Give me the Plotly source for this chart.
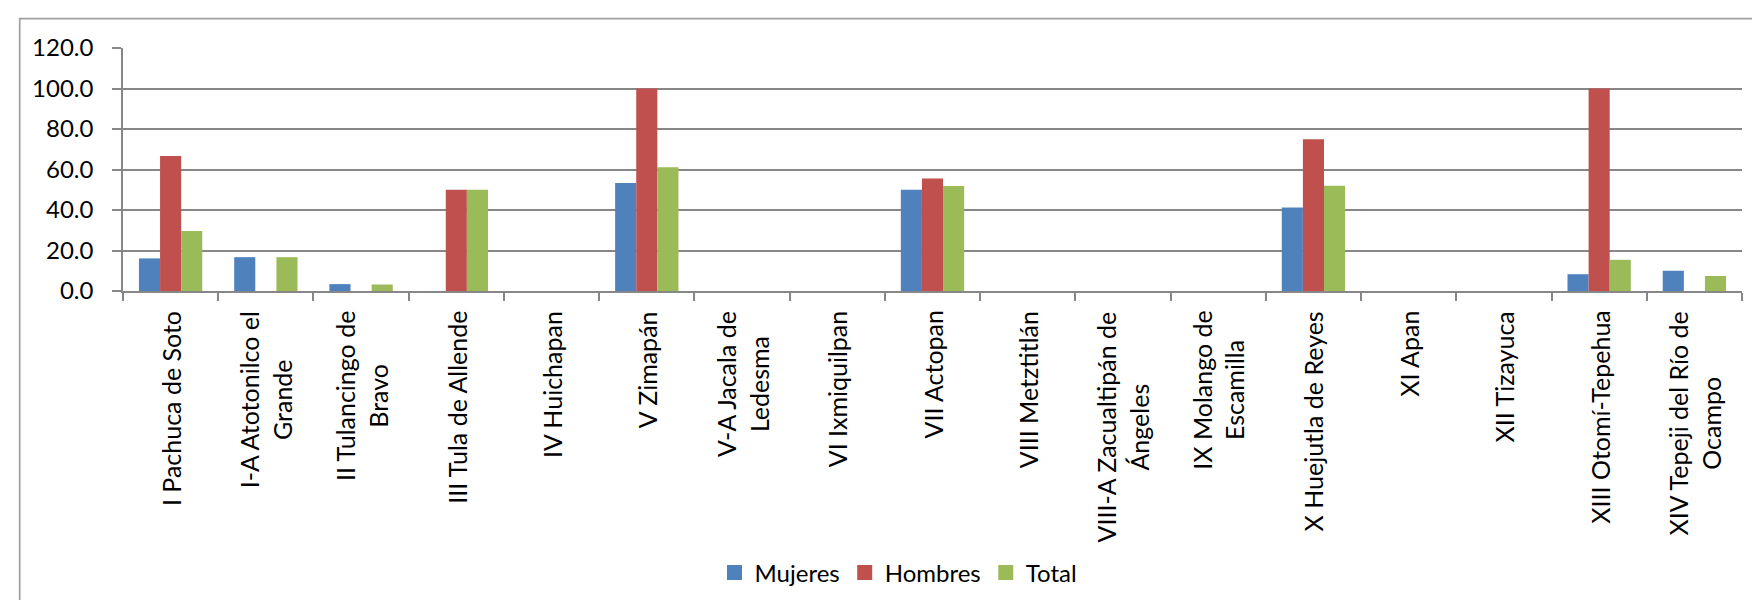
import plotly.graph_objects as go

categories = [
    "I Pachuca de Soto", "I-A Atotonilco el Grande", "II Tulancingo de Bravo",
    "III Tula de Allende", "IV Huichapan", "V Zimapán", "V-A Jacala de Ledesma",
    "VI Ixmiquilpan", "VII Actopan", "VIII Metztitlán",
    "VIII-A Zacualtipán de Ángeles", "IX Molango de Escamilla",
    "X Huejutla de Reyes", "XI Apan", "XII Tizayuca", "XIII Otomí-Tepehua",
    "XIV Tepeji del Río de Ocampo",
]
tick_labels = [
    "I Pachuca de Soto", "I-A Atotonilco el<br>Grande", "II Tulancingo de<br>Bravo",
    "III Tula de Allende", "IV Huichapan", "V Zimapán", "V-A Jacala de<br>Ledesma",
    "VI Ixmiquilpan", "VII Actopan", "VIII Metztitlán",
    "VIII-A Zacualtipán de<br>Ángeles", "IX Molango de<br>Escamilla",
    "X Huejutla de Reyes", "XI Apan", "XII Tizayuca", "XIII Otomí-Tepehua",
    "XIV Tepeji del Río de<br>Ocampo",
]
mujeres = [16.1, 16.7, 3.4, 0, 0, 53.3, 0, 0, 50.0, 0, 0, 0, 41.2, 0, 0, 8.3, 10.0]
hombres = [66.7, 0, 0, 50.0, 0, 100.0, 0, 0, 55.6, 0, 0, 0, 75.0, 0, 0, 100.0, 0]
total = [29.6, 16.7, 3.2, 50.0, 0, 61.1, 0, 0, 51.9, 0, 0, 0, 52.0, 0, 0, 15.4, 7.4]

series = [("Mujeres", mujeres, "#4F81BD"), ("Hombres", hombres, "#C0504D"), ("Total", total, "#9BBB59")]

fig = go.Figure()
for name, vals, col in series:
    fig.add_trace(go.Bar(x=categories, y=vals, name=name, marker_color=col,
                         marker_line_width=0, showlegend=False, legendgroup=name))
for name, vals, col in series:
    fig.add_trace(go.Scatter(x=[None], y=[None], mode="markers", name=name, legendgroup=name,
                             marker=dict(symbol="square", size=15, color=col)))

grid = "#878787"
for cat, lab in zip(categories, tick_labels):
    fig.add_annotation(x=cat, xref="x", y=0, yref="paper", yanchor="top", xanchor="center",
                       yshift=-18, text=lab, textangle=-90, showarrow=False, align="center",
                       font=dict(family="Lato", size=25, color="#000000"))

fig.add_shape(type="rect", xref="paper", yref="paper", x0=-0.0638, x1=1.2, y0=-2.0, y1=1.1206,
              line=dict(color="#A0A0A0", width=1.7), fillcolor="rgba(0,0,0,0)", layer="below")

fig.update_layout(
    width=1760, height=600,
    margin=dict(l=115, r=26, t=40, b=317),
    paper_bgcolor="white", plot_bgcolor="white",
    barmode="group", bargap=0.335, bargroupgap=0,
    font=dict(family="Lato", size=24, color="#000000"),
    legend=dict(orientation="h", x=0.479, y=-1.16, xanchor="center", yanchor="middle",
                font=dict(family="Lato", size=24), itemwidth=30),
    showlegend=True,
)
fig.update_xaxes(showticklabels=False, ticks="outside", tickson="boundaries", ticklen=8,
                 tickcolor=grid, tickwidth=1.5, showline=True, linecolor=grid, linewidth=1.5,
                 showgrid=False)
fig.update_yaxes(range=[0, 120], dtick=20, tickformat=".1f", ticks="outside", ticklen=9,
                 tickcolor=grid, tickwidth=1.5, showline=True, linecolor=grid, linewidth=1.5,
                 showgrid=True, gridcolor=grid, gridwidth=1.5, zeroline=False,
                 ticklabelstandoff=14, tickfont=dict(family="Lato", size=24))

fig.write_html("out.html")
